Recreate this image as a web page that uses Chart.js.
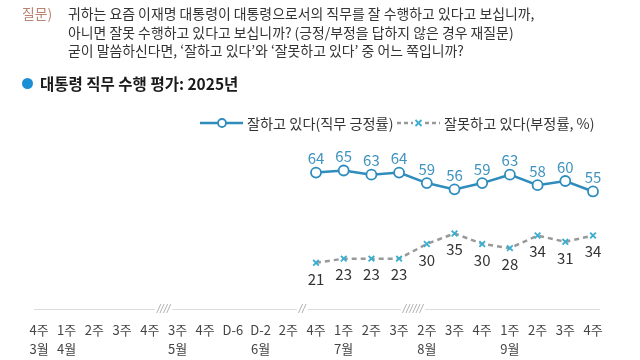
<!DOCTYPE html>
<html>
<head>
<meta charset="utf-8">
<script src="https://cdn.jsdelivr.net/npm/chart.js@4/dist/chart.umd.min.js"></script>
<style>
  body { margin: 0; background: #fff; font-family: "Noto Sans CJK KR", sans-serif; }
  #wrap { position: relative; width: 640px; height: 360px; overflow: hidden; }
  #chart { position: absolute; left: 0; top: 0; }
  .abs { position: absolute; white-space: nowrap; }
  .q { font-size: 13.9px; line-height: 18px; color: #333; }
  .qhead { color: #b8836f; }
  .title { font-size: 15.5px; font-weight: bold; color: #1a1a1a; line-height: 20px; }
  .dot { width: 11px; height: 11px; border-radius: 50%; background: #1b8fd6; }
  .leg { font-size: 14.2px; line-height: 18px; color: #333; }
</style>
</head>
<body>
<div id="wrap">
  <canvas id="chart" width="640" height="360"></canvas>
  <div class="abs q qhead" style="left:22px; top:4px;">질문)</div>
  <div class="abs q" style="left:68px; top:4px;">귀하는 요즘 이재명 대통령이 대통령으로서의 직무를 잘 수행하고 있다고 보십니까,</div>
  <div class="abs q" style="left:68px; top:23px;">아니면 잘못 수행하고 있다고 보십니까? (긍정/부정을 답하지 않은 경우 재질문)</div>
  <div class="abs q" style="left:68px; top:41px;">굳이 말씀하신다면, ‘잘하고 있다’와 ‘잘못하고 있다’ 중 어느 쪽입니까?</div>
  <div class="abs dot" style="left:22px; top:78px;"></div>
  <div class="abs title" style="left:40px; top:73px;">대통령 직무 수행 평가: 2025년</div>

  <svg class="abs" style="left:200px; top:116px;" width="44" height="14">
    <line x1="0" y1="7" x2="43" y2="7" stroke="#2f8dbd" stroke-width="2.5"/>
    <circle cx="22" cy="7" r="4" fill="#fff" stroke="#2f8dbd" stroke-width="1.8"/>
  </svg>
  <div class="abs leg" style="left:247px; top:114px;">잘하고 있다(직무 긍정률)</div>
  <svg class="abs" style="left:397px; top:116px;" width="44" height="14">
    <line x1="0" y1="7" x2="43" y2="7" stroke="#999" stroke-width="2.5" stroke-dasharray="4 3"/>
    <rect x="16" y="2" width="11" height="10" fill="#fff"/>
    <path d="M18.5 4 L24.5 10 M24.5 4 L18.5 10" stroke="#3aaed0" stroke-width="1.8"/>
  </svg>
  <div class="abs leg" style="left:444px; top:114px;">잘못하고 있다(부정률, %)</div>
</div>
<script>
// 주차 라벨 (두 번째 줄 = 월)
const weekLabels = ['4주', '1주', '2주', '3주', '4주', '3주', '4주', 'D-6', 'D-2', '2주', '4주',
                    '1주', '2주', '3주', '2주', '3주', '4주', '1주', '2주', '3주', '4주'];
const monthLabels = ['3월', '4월', '', '', '', '5월', '', '', '6월', '', '',
                     '7월', '', '', '8월', '', '', '9월', '', '', ''];

const positive = [null, null, null, null, null, null, null, null, null, null,
                  64, 65, 63, 64, 59, 56, 59, 63, 58, 60, 55];
const negative = [null, null, null, null, null, null, null, null, null, null,
                  21, 23, 23, 23, 30, 35, 30, 28, 34, 31, 34];

// axis breaks (between category indexes)
const breakMarks = [[4, 5, '////'], [9, 10, '//'], [13, 14, '//////']];

const labels = weekLabels.map((w, i) => monthLabels[i] ? [w, monthLabels[i]] : w);

const valueLabels = {
    id: 'valueLabels',
    afterDatasetsDraw(chart) {
        const ctx = chart.ctx;
        ctx.save();
        ctx.font = '15px "Noto Sans CJK KR"';
        ctx.textAlign = 'center';
        ctx.textBaseline = 'middle';
        chart.data.datasets.forEach((ds, i) => {
            chart.getDatasetMeta(i).data.forEach((pt, j) => {
                const v = ds.data[j];
                if (v == null) return;
                ctx.fillStyle = ds.labelColor;
                ctx.fillText(String(v), pt.x, pt.y + ds.labelOffset);
            });
        });
        ctx.restore();
    }
};

const axisLine = {
    id: 'axisLine',
    beforeDatasetsDraw(chart) {
        const { ctx, chartArea, scales } = chart;
        const y = chartArea.bottom;
        ctx.save();
        ctx.strokeStyle = '#dcdcdc';
        ctx.lineWidth = 1;
        ctx.beginPath();
        ctx.moveTo(chartArea.left - 5, y + 0.5);
        ctx.lineTo(chartArea.right + 7, y + 0.5);
        ctx.stroke();

        ctx.font = 'italic 10px "DejaVu Sans"';
        ctx.textAlign = 'center';
        ctx.textBaseline = 'middle';
        breakMarks.forEach(([a, b, txt]) => {
            const x = (scales.x.getPixelForValue(a) + scales.x.getPixelForValue(b)) / 2;
            const w = ctx.measureText(txt).width;
            ctx.fillStyle = '#fff';
            ctx.fillRect(x - w / 2 - 2, y - 4, w + 4, 8);
            ctx.fillStyle = '#aaa';
            ctx.fillText(txt, x, y);
        });
        ctx.restore();
    }
};

new Chart(document.getElementById('chart'), {
    type: 'line',
    data: {
        labels: labels,
        datasets: [{
            data: positive,
            borderColor: '#2f8dbd',
            borderWidth: 2.5,
            pointStyle: 'circle',
            pointRadius: 5,
            pointBackgroundColor: '#fff',
            pointBorderColor: '#2f8dbd',
            pointBorderWidth: 1.8,
            tension: 0,
            labelColor: '#3f93bf',
            labelOffset: -14
        }, {
            data: negative,
            borderColor: '#999',
            borderWidth: 2.5,
            borderDash: [5, 4],
            pointStyle: 'crossRot',
            pointRadius: 4,
            pointBorderColor: '#3aaed0',
            pointBorderWidth: 1.8,
            tension: 0,
            labelColor: '#333',
            labelOffset: 16
        }]
    },
    options: {
        responsive: false,
        animation: false,
        layout: { padding: { top: 139, left: 39, right: 47, bottom: 0 } },
        plugins: { legend: { display: false }, tooltip: { enabled: false } },
        scales: {
            x: {
                offset: false,
                grid: { display: false, drawTicks: false },
                border: { display: false },
                ticks: {
                    autoSkip: false,
                    maxRotation: 0,
                    padding: 11,
                    color: '#444',
                    font: { family: '"Noto Sans CJK KR"', size: 13, lineHeight: 1.5 }
                },
                afterFit: (s) => { s.height = 51; }
            },
            y: { display: false, min: -1, max: 80 }
        }
    },
    plugins: [valueLabels, axisLine]
});
</script>
</body>
</html>
